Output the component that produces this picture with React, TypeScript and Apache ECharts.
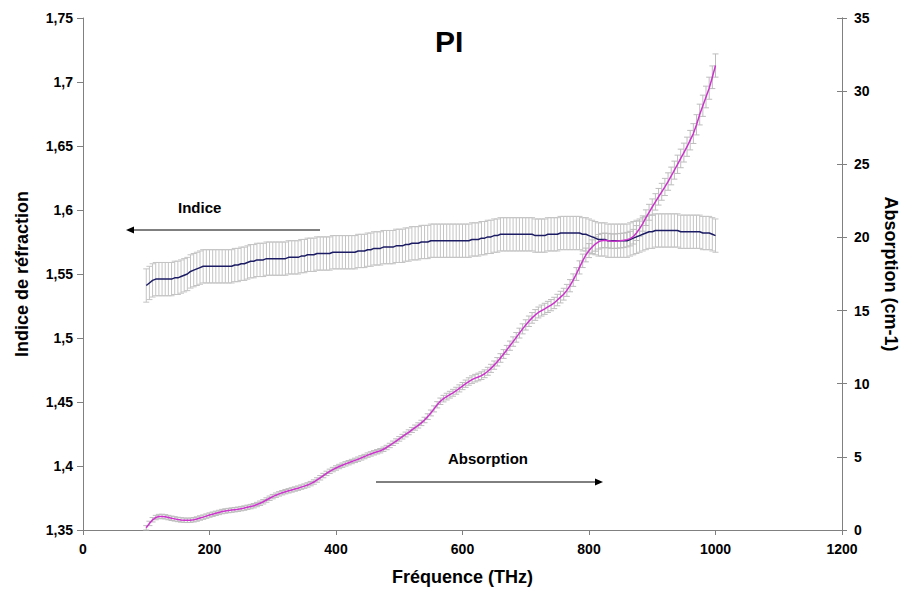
import React, { useEffect, useRef } from "react";
import * as echarts from "echarts";

// Frequency sampling grid (THz): 100 .. 1000, step 5
const FREQ_START = 100;
const FREQ_STEP = 5;

// Refractive index (left axis)
const indice = [
  1.541, 1.543, 1.545, 1.546, 1.546, 1.546, 1.546, 1.546, 1.546, 1.547,
  1.547, 1.548, 1.549, 1.55, 1.552, 1.553, 1.554, 1.555, 1.556, 1.556,
  1.556, 1.556, 1.556, 1.556, 1.556, 1.556, 1.556, 1.556, 1.557, 1.557,
  1.558, 1.558, 1.559, 1.56, 1.56, 1.561, 1.561, 1.561, 1.562, 1.562,
  1.562, 1.562, 1.562, 1.562, 1.562, 1.563, 1.563, 1.563, 1.563, 1.564,
  1.564, 1.565, 1.565, 1.565, 1.566, 1.566, 1.566, 1.566, 1.566, 1.567,
  1.567, 1.567, 1.567, 1.567, 1.567, 1.567, 1.567, 1.568, 1.568, 1.568,
  1.569, 1.569, 1.57, 1.57, 1.57, 1.571, 1.571, 1.571, 1.571, 1.572,
  1.572, 1.572, 1.573, 1.573, 1.574, 1.574, 1.574, 1.575, 1.575, 1.575,
  1.576, 1.576, 1.576, 1.576, 1.576, 1.576, 1.576, 1.576, 1.576, 1.576,
  1.576, 1.576, 1.576, 1.577, 1.577, 1.577, 1.578, 1.578, 1.579, 1.579,
  1.58, 1.58, 1.581, 1.581, 1.581, 1.581, 1.581, 1.581, 1.581, 1.581,
  1.581, 1.581, 1.581, 1.58, 1.58, 1.58, 1.58, 1.581, 1.581, 1.581,
  1.581, 1.582, 1.582, 1.582, 1.582, 1.582, 1.582, 1.582, 1.581, 1.581,
  1.58, 1.579, 1.578, 1.577, 1.577, 1.577, 1.576, 1.576, 1.576, 1.576,
  1.576, 1.576, 1.576, 1.577, 1.578, 1.579, 1.58, 1.581, 1.582, 1.583,
  1.583, 1.584, 1.584, 1.584, 1.584, 1.584, 1.584, 1.584, 1.584, 1.583,
  1.583, 1.583, 1.583, 1.583, 1.583, 1.583, 1.582, 1.582, 1.582, 1.581,
  1.58,
];

// Absorption (cm-1, right axis)
const absorption = [
  0.15, 0.45, 0.7, 0.85, 0.92, 0.93, 0.9, 0.85, 0.8, 0.76,
  0.72, 0.69, 0.67, 0.66, 0.67, 0.7, 0.75, 0.82, 0.88, 0.95,
  1.02, 1.08, 1.14, 1.2, 1.26, 1.3, 1.33, 1.36, 1.39, 1.42,
  1.46, 1.5, 1.55, 1.6, 1.66, 1.74, 1.83, 1.93, 2.05, 2.17,
  2.28, 2.38, 2.47, 2.55, 2.62, 2.68, 2.74, 2.8, 2.86, 2.93,
  3.0, 3.08, 3.17, 3.28, 3.42, 3.57, 3.72, 3.87, 4.01, 4.13,
  4.24, 4.34, 4.43, 4.52, 4.6, 4.68, 4.76, 4.84, 4.93, 5.02,
  5.12, 5.2, 5.28, 5.35, 5.42, 5.52, 5.64, 5.78, 5.93, 6.08,
  6.23, 6.38, 6.53, 6.68, 6.84, 7.0, 7.15, 7.32, 7.52, 7.75,
  8.0, 8.28, 8.56, 8.8, 8.98, 9.12, 9.25, 9.38, 9.52, 9.68,
  9.84, 10.0, 10.15, 10.28, 10.38, 10.46, 10.55, 10.68, 10.85, 11.05,
  11.27, 11.5, 11.76, 12.03, 12.31, 12.6, 12.88, 13.17, 13.46, 13.75,
  14.02, 14.27, 14.5, 14.7, 14.87, 15.0, 15.12, 15.25, 15.37, 15.52,
  15.72, 15.92, 16.12, 16.38, 16.7, 17.08, 17.5, 17.95, 18.4, 18.8,
  19.1, 19.35, 19.55, 19.7, 19.78, 19.8, 19.78, 19.75, 19.74, 19.76,
  19.78, 19.8, 19.85, 19.92, 20.05, 20.3, 20.6, 20.95, 21.35, 21.72,
  22.08, 22.43, 22.78, 23.12, 23.45, 23.82, 24.2, 24.6, 25.0, 25.4,
  25.8, 26.2, 26.65, 27.1, 27.7, 28.4, 29.0, 29.6, 30.2, 30.95,
  31.75,
];

// Error bar settings
const INDICE_ERR = 0.013;
const ABS_REL_ERR = 0.025;
const ABS_MIN_ERR = 0.15;

// Axis ticks
const X_MIN = 0, X_MAX = 1200, X_STEP = 200;
const LEFT_MIN = 1.35, LEFT_MAX = 1.75, LEFT_STEP = 0.05;
const RIGHT_MIN = 0, RIGHT_MAX = 35, RIGHT_STEP = 5;

const FONT = "'Liberation Sans', Arial, sans-serif";
const W = 903;
const H = 601;

export default function App() {
  const ref = useRef<HTMLDivElement>(null);

  useEffect(() => {
    if (!ref.current) return;
    const chart = echarts.init(ref.current, undefined, { renderer: "svg", width: W, height: H });

    const freqs = indice.map((_, i) => FREQ_START + i * FREQ_STEP);
    const indiceData = freqs.map((f, i) => [f, indice[i]]);
    const absData = freqs.map((f, i) => [f, absorption[i]]);
    const indiceErr = freqs.map((f, i) => [f, indice[i], INDICE_ERR]);
    const absErr = freqs.map((f, i) => [
      f,
      absorption[i],
      Math.max(ABS_MIN_ERR, absorption[i] * ABS_REL_ERR),
    ]);

    const errRender = (color: string) => (params: any, api: any) => {
      const x = api.value(0);
      const y = api.value(1);
      const e = api.value(2);
      const top = api.coord([x, y + e]);
      const bot = api.coord([x, y - e]);
      const cw = 3;
      const style = { stroke: color, lineWidth: 1, fill: null };
      return {
        type: "group",
        children: [
          { type: "line", shape: { x1: top[0], y1: top[1], x2: bot[0], y2: bot[1] }, style },
          { type: "line", shape: { x1: top[0] - cw, y1: top[1], x2: top[0] + cw, y2: top[1] }, style },
          { type: "line", shape: { x1: bot[0] - cw, y1: bot[1], x2: bot[0] + cw, y2: bot[1] }, style },
        ],
      };
    };

    const axisLineStyle = { color: "#808080", width: 1 };
    const labelStyle = { color: "#000", fontSize: 14, fontWeight: "bold", fontFamily: FONT };
    const nameStyle = { color: "#000", fontSize: 18, fontWeight: "bold", fontFamily: FONT };

    chart.setOption({
      animation: false,
      backgroundColor: "#fff",
      grid: {
        left: 83,
        right: 61,
        top: 18,
        bottom: 71,
        containLabel: false,
        outerBoundsMode: "none",
      },
      xAxis: {
        type: "value",
        min: X_MIN,
        max: X_MAX,
        interval: X_STEP,
        name: "Fréquence (THz)",
        nameLocation: "middle",
        nameGap: 38,
        nameTextStyle: nameStyle,
        axisLine: { show: true, onZero: false, lineStyle: axisLineStyle },
        axisTick: { show: true, length: 5, lineStyle: axisLineStyle },
        axisLabel: { ...labelStyle, margin: 12, formatter: (v: number) => String(v) },
        splitLine: { show: false },
      },
      yAxis: [
        {
          type: "value",
          position: "left",
          min: LEFT_MIN,
          max: LEFT_MAX,
          interval: LEFT_STEP,
          name: "Indice de réfraction",
          nameLocation: "middle",
          nameGap: 52,
          nameTextStyle: nameStyle,
          axisLine: { show: true, lineStyle: axisLineStyle },
          axisTick: { show: true, length: 6, lineStyle: axisLineStyle },
          axisLabel: {
            ...labelStyle,
            margin: 10,
            formatter: (v: number) => (Math.round(v * 100) / 100).toString().replace(".", ","),
          },
          splitLine: { show: false },
        },
        {
          type: "value",
          position: "right",
          min: RIGHT_MIN,
          max: RIGHT_MAX,
          interval: RIGHT_STEP,
          name: "Absorption (cm-1)",
          nameLocation: "middle",
          nameRotate: -90,
          nameGap: 40,
          nameTextStyle: nameStyle,
          axisLine: { show: true, lineStyle: axisLineStyle },
          axisTick: { show: true, length: 5, lineStyle: axisLineStyle },
          axisLabel: { ...labelStyle, margin: 12, formatter: (v: number) => String(v) },
          splitLine: { show: false },
        },
        {
          type: "value",
          position: "right",
          min: RIGHT_MIN,
          max: RIGHT_MAX,
          interval: RIGHT_STEP,
          axisLine: { show: true, lineStyle: axisLineStyle },
          axisTick: { show: true, inside: true, length: 5, lineStyle: axisLineStyle },
          axisLabel: { show: false },
          splitLine: { show: false },
        },
      ],
      series: [
        {
          type: "custom",
          name: "Indice err",
          xAxisIndex: 0,
          yAxisIndex: 0,
          renderItem: errRender("#c4c4c4"),
          encode: { x: 0, y: 1 },
          data: indiceErr,
          silent: true,
          z: 1,
        },
        {
          type: "custom",
          name: "Absorption err",
          xAxisIndex: 0,
          yAxisIndex: 1,
          renderItem: errRender("#bdbdbd"),
          encode: { x: 0, y: 1 },
          data: absErr,
          silent: true,
          z: 2,
        },
        {
          type: "line",
          name: "Indice",
          yAxisIndex: 0,
          data: indiceData,
          showSymbol: false,
          lineStyle: { color: "#1c1c64", width: 1.5 },
          itemStyle: { color: "#1c1c64" },
          z: 3,
        },
        {
          type: "line",
          name: "Absorption",
          yAxisIndex: 1,
          data: absData,
          showSymbol: false,
          lineStyle: { color: "#cc33cc", width: 1.5 },
          itemStyle: { color: "#cc33cc" },
          z: 4,
        },
      ],
      graphic: [
        {
          type: "text",
          x: 435,
          y: 26,
          style: { text: "PI", fill: "#000", font: `bold 30px ${FONT}`, textVerticalAlign: "top" },
        },
        {
          type: "text",
          x: 178,
          y: 200,
          style: { text: "Indice", fill: "#000", font: `bold 15px ${FONT}`, textVerticalAlign: "top" },
        },
        {
          type: "line",
          shape: { x1: 133, y1: 230, x2: 320, y2: 230 },
          style: { stroke: "#000", lineWidth: 1 },
        },
        {
          type: "polygon",
          shape: { points: [[126, 230], [134, 226.5], [134, 233.5]] },
          style: { fill: "#000" },
        },
        {
          type: "text",
          x: 448,
          y: 451,
          style: { text: "Absorption", fill: "#000", font: `bold 15px ${FONT}`, textVerticalAlign: "top" },
        },
        {
          type: "line",
          shape: { x1: 376, y1: 482, x2: 596, y2: 482 },
          style: { stroke: "#000", lineWidth: 1 },
        },
        {
          type: "polygon",
          shape: { points: [[603, 482], [595, 478.5], [595, 485.5]] },
          style: { fill: "#000" },
        },
      ],
    });

    return () => chart.dispose();
  }, []);

  return (
    <div
      ref={ref}
      style={{ position: "fixed", left: 0, top: 0, width: W, height: H, background: "#fff" }}
    />
  );
}
